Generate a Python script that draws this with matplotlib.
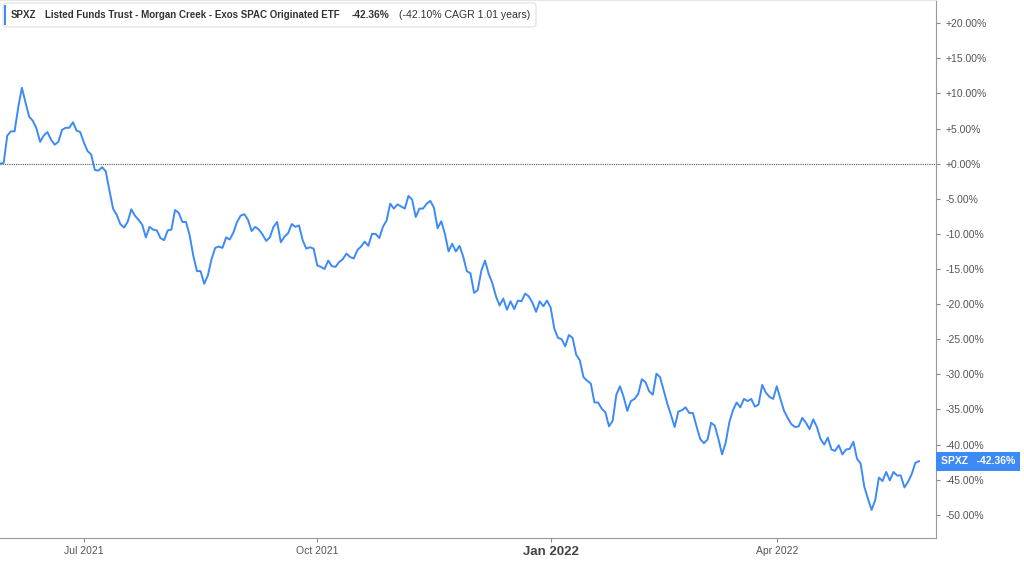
import numpy as np
import pandas as pd
import matplotlib.pyplot as plt
import matplotlib.ticker as mticker
from matplotlib.patches import FancyBboxPatch, Rectangle
from matplotlib.transforms import IdentityTransform, blended_transform_factory

plt.rcParams['font.family'] = ['Liberation Sans', 'DejaVu Sans']

# SPXZ cumulative return (%), one value per trading day
returns = [
    0.0, 0.1, 4.0, 4.6, 4.6, 8.0, 10.8, 8.7, 6.7, 6.1,
    5.0, 3.1, 4.0, 4.5, 3.4, 2.7, 3.1, 4.8, 5.1, 5.1,
    5.9, 4.7, 4.5, 3.0, 1.8, 1.3, -0.9, -1.0, -0.5, -1.1,
    -3.8, -6.4, -7.3, -8.6, -9.1, -8.3, -6.5, -7.4, -8.0, -8.7,
    -10.5, -9.0, -9.4, -9.5,
    -10.6, -10.9, -9.5, -9.4, -6.6, -7.0, -8.3, -8.3, -10.2, -13.1,
    -15.3, -15.3, -17.1, -15.9, -13.6, -12.0, -11.8, -12.0, -10.5, -10.8,
    -9.8, -8.3, -7.4, -7.2, -8.0, -9.6, -9.0, -9.4, -10.1, -11.0,
    -10.5, -9.0, -8.3, -11.2, -10.4, -9.9, -8.6, -9.0, -8.8, -10.9,
    -12.1, -11.9, -12.1,
    -14.5, -14.7, -15.0, -13.8, -14.6, -14.7, -14.0, -13.6, -12.8, -13.3,
    -13.5, -12.3, -11.8, -11.1, -11.7, -10.0, -10.0, -10.6, -9.0, -8.1,
    -5.7, -6.4, -5.8, -6.1, -6.4, -4.6, -5.1, -7.6, -6.4, -6.4,
    -5.7, -5.3, -6.3, -9.2, -8.2, -10.0, -12.5, -11.4, -12.5, -11.7,
    -13.2, -15.3, -15.6, -18.4, -18.0,
    -15.2, -13.8, -15.7, -17.0, -18.9, -20.2, -19.2, -20.8, -19.6, -20.7,
    -19.5, -19.6, -18.5, -18.9, -19.8, -21.1, -19.6, -20.3, -19.5, -20.5,
    -23.5, -24.8, -25.0, -26.0, -24.4, -24.8, -27.2, -28.0, -30.4, -30.9,
    -31.3, -34.0, -34.0, -34.9, -35.4, -37.4, -36.6, -32.9, -31.7, -33.2,
    -35.2, -33.8, -33.5,
    -32.8, -30.7, -31.1, -32.4, -32.9, -29.9, -30.4, -32.3, -34.2, -35.8,
    -37.5, -35.3, -35.1, -34.7, -35.5, -35.5, -37.4, -39.2, -39.8, -39.3,
    -36.9, -37.3, -39.2, -41.4, -39.7, -36.8, -35.1, -34.0, -34.7, -33.5,
    -33.8, -33.5, -34.6, -34.3, -31.5, -32.6, -33.2, -33.5, -31.7, -33.5,
    -35.2, -36.2, -37.1, -37.5,
    -37.4, -36.2, -36.9, -37.8, -36.4, -37.5, -39.2, -40.0, -39.0, -40.7,
    -40.9, -40.1, -41.4, -40.7, -40.6, -39.6, -42.0, -42.7, -46.0, -47.7,
    -49.3, -47.9, -44.7, -45.2, -43.9, -45.1, -43.9, -44.4, -44.4, -46.1,
    -45.3, -44.2, -42.6, -42.36,
]

market_holidays = ['2021-05-31', '2021-07-05', '2021-09-06', '2021-11-25',
                   '2021-12-24', '2022-01-17', '2022-02-21', '2022-04-15']
dates = pd.bdate_range('2021-05-28', '2022-05-27', freq='C', holidays=market_holidays)
n = min(len(dates), len(returns))
dates = dates[:n]
returns = returns[:n]

x_tick_dates = pd.to_datetime(['2021-07-01', '2021-10-01', '2022-01-01', '2022-04-01'])
x_tick_labels = ['Jul 2021', 'Oct 2021', 'Jan 2022', 'Apr 2022']
y_ticks = list(range(-50, 25, 5))

ticker = 'SPXZ'
fund_name = 'Listed Funds Trust - Morgan Creek - Exos SPAC Originated ETF'
total_return = '-42.36%'
cagr_text = '(-42.10% CAGR 1.01 years)'

line_color = '#3d8af7'
text_grey = '#555555'

fig = plt.figure(figsize=(10.24, 5.64), dpi=100)
ax = fig.add_axes([0, 26 / 564, 936 / 1024, 538 / 564])

# the chart spaces trading days evenly (no weekend gaps)
x = np.arange(n)
ax.plot(x, returns, color=line_color, lw=1.4, solid_joinstyle='round', zorder=3)
ax.axhline(0, color='#555555', lw=0.8, ls=(0, (1, 1)), zorder=2)

ax.set_xlim(0, (n - 1) * 936 / 919)
ax.set_ylim(-53.3, 23.3)

# right hand percent axis
ax.yaxis.tick_right()
ax.set_yticks(y_ticks)
ax.yaxis.set_major_formatter(mticker.FuncFormatter(lambda v, p: f'{v:+.2f}%'))
ax.tick_params(axis='y', length=3, color='#888888', labelsize=7.5, labelcolor=text_grey, pad=4)

ax.set_xticks(dates.searchsorted(x_tick_dates))
ax.set_xticklabels(x_tick_labels)
ax.tick_params(axis='x', length=3, color='#888888', labelsize=7.5, labelcolor=text_grey, pad=3)
jan = ax.get_xticklabels()[2]
jan.set_fontsize(9.5)
jan.set_fontweight('bold')
jan.set_color('#444444')

ax.spines['left'].set_visible(False)
ax.spines['top'].set_color('#e6e6e6')
ax.spines['right'].set_color('#999999')
ax.spines['bottom'].set_color('#999999')

# last value badge on the right axis
last = returns[-1]
trans = blended_transform_factory(ax.transAxes, ax.transData)
badge_h = 19 / 7.03
ax.add_patch(Rectangle((1.0, last - badge_h / 2), 84 / 936, badge_h, transform=trans,
                       facecolor=line_color, edgecolor='none', clip_on=False, zorder=5))
ax.text(1.0 + 42 / 936, last, f'{ticker}   {total_return}', transform=trans, color='white',
        fontsize=7.5, fontweight='bold', ha='center', va='center', zorder=6)

# legend header in the top left, on its own overlay so it sits above the plot
top = fig.add_axes([0, 0, 1, 1], zorder=10)
top.axis('off')
top.add_patch(FancyBboxPatch((3, 537), 533, 24, boxstyle='round,pad=0,rounding_size=3',
                             transform=IdentityTransform(), facecolor='white',
                             edgecolor='#e0e0e0', lw=0.8))
top.add_patch(Rectangle((3.5, 539), 2.5, 20, transform=IdentityTransform(),
                        facecolor=line_color, edgecolor='none'))
t1 = top.text(11 / 1024, 549 / 564, ticker, fontsize=7, fontweight='bold', color='#333333', va='center')
t2 = top.annotate(fund_name, xy=(1, 0.5), xycoords=t1, xytext=(6.5, 0), textcoords='offset points',
                  fontsize=7, fontweight='bold', color='#333333', va='center')
t3 = top.annotate(total_return, xy=(1, 0.5), xycoords=t2, xytext=(8.5, 0), textcoords='offset points',
                  fontsize=7.3, fontweight='bold', color='#333333', va='center')
t4 = top.annotate(cagr_text, xy=(1, 0.5), xycoords=t3, xytext=(6.5, 0), textcoords='offset points',
                  fontsize=7.6, color='#333333', va='center')

fig.savefig('out.png', dpi=100)
